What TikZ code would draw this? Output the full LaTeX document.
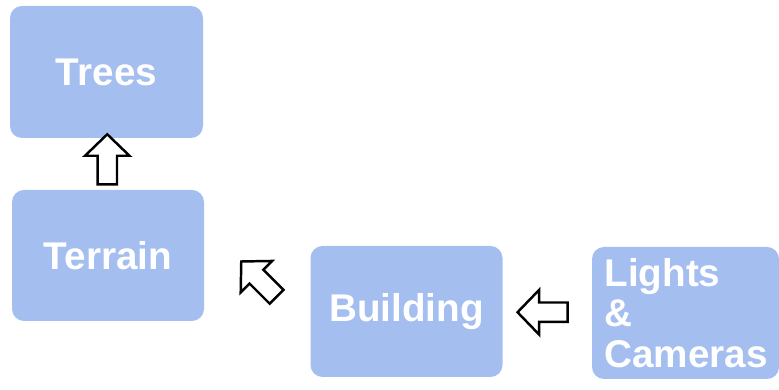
\documentclass[tikz,border=0pt]{standalone}
\usepackage{fontspec}
\setmainfont{Liberation Sans}
\usetikzlibrary{shapes.arrows,positioning,calc}
\definecolor{stagefill}{RGB}{164,190,240}
\tikzset{%
  stage/.style={fill=stagefill,rounded corners=0.24cm,text=white,align=center,
    font=\bfseries\fontsize{22}{23.2}\selectfont,minimum width=3.84cm,minimum height=2.62cm},
  blockarrow/.style={single arrow,draw=black,fill=white,line width=1.4pt,minimum height=1cm,
    inner sep=0.17cm,single arrow head extend=0.25cm,single arrow tip angle=92}%
}

\begin{document}
\begin{tikzpicture}
\useasboundingbox (0,0) rectangle (15.58,7.8);

% Stages
\node[stage, minimum width=3.86cm, minimum height=2.64cm] (trees) at (2.13,6.36) {Trees};
\node[stage] (terrain) at (2.16,2.69) {Terrain};
\node[stage] (building) at (8.13,1.57) {Building};
\node[stage, align=left, text width=3.24cm, inner xsep=0.25cm, minimum width=3.74cm,
      minimum height=2.64cm] (lights) at (13.71,1.54) {Lights\\\&\\Cameras};

% Block arrows between stages
\node[blockarrow, rotate=90] (upArrow) at ($(trees.south)!0.5!(terrain.north)$) {};
\node[blockarrow, rotate=135] (diagArrow) at ($(terrain.east)!0.5!(building.west)+(0.1,0.02)$) {};
\node[blockarrow, rotate=180] (leftArrow) at ($(building.east)!0.5!(lights.west)$) {};

\end{tikzpicture}
\end{document}
